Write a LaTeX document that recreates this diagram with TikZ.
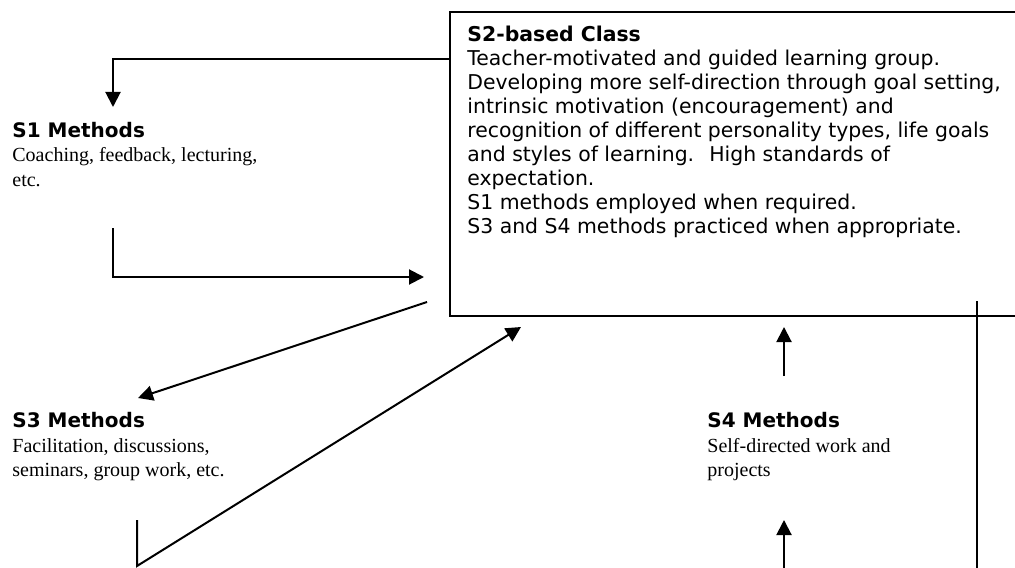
\documentclass[tikz,border=0pt]{standalone}
\usepackage{fontspec}
\setmainfont{Liberation Serif}
\newfontfamily\verdana{DejaVu Sans}
\usetikzlibrary{arrows.meta,positioning}

\begin{document}
\begin{tikzpicture}[x=0.5pt, y=-0.5pt,
    method/.style={anchor=north west, inner sep=0pt, align=left,
    font=\fontsize{10}{12.2}\selectfont},
    conn/.style={line width=1pt, -{Triangle[length=7.5pt, width=7.5pt]}},
    plain/.style={line width=1pt}]

    \clip (0,0) rectangle (1015,567);

    \node (s2box) [draw, line width=1pt, anchor=north west, inner sep=0pt,
        minimum width=290pt, minimum height=152pt] at (449,11) {};
    \node (s2text) [method, font=\verdana\fontsize{10.2}{12}\selectfont,
        below right=7.5pt and 9pt of s2box.north west]
        {{\bfseries S2-based Class}\\
        Teacher-motivated and guided learning group.\\
        Developing more self-direction through goal setting,\\
        intrinsic motivation (encouragement) and\\
        recognition of different personality types, life goals\\
        and styles of learning.~ High standards of\\
        expectation.\\
        S1 methods employed when required.\\
        S3 and S4 methods practiced when appropriate.};

    \node (s1) [method] at (12,122)
        {{\verdana\bfseries S1 Methods}\\ Coaching, feedback, lecturing,\\ etc.};
    \node (s3) [method, below right=145pt and 0pt of s1.north west]
        {{\verdana\bfseries S3 Methods}\\ Facilitation, discussions,\\ seminars, group work, etc.};
    \node (s4) [method] at (707,412)
        {{\verdana\bfseries S4 Methods}\\ Self-directed work and\\ projects};

    % free ends of the connectors
    \coordinate (s1top) at (113,107);
    \coordinate (s1out) at (113,228);
    \coordinate (s2in1) at (424,277);
    \coordinate (s2out3) at (427,302);
    \coordinate (s3in) at (138,398);
    \coordinate (s3out) at (137,520);
    \coordinate (s3turn) at (137,566);
    \coordinate (s2in3) at (521,327);
    \coordinate (s4out) at (784,376);
    \coordinate (s2in4) at (784,327);
    \coordinate (s4low) at (784,570);
    \coordinate (s4in) at (784,520);
    \coordinate (rtop) at (977,301);
    \coordinate (rlow) at (977,570);

    \draw[conn] ([yshift=-24pt]s2box.north west) -| (s1top);
    \draw[conn] (s1out) |- (s2in1);
    \draw[conn] (s2out3) -- (s3in);
    \draw[conn] (s3out) -- (s3turn) -- (s2in3);
    \draw[conn] (s4out) -- (s2in4);
    \draw[conn] (s4low) -- (s4in);
    \draw[plain] (rtop) -- (rlow);
\end{tikzpicture}
\end{document}
